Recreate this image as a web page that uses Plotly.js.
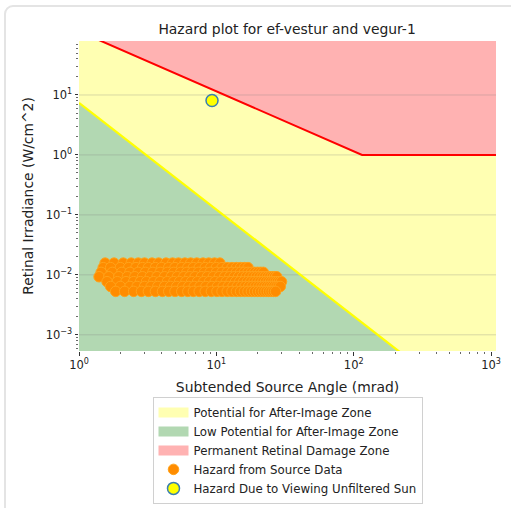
<!DOCTYPE html>
<html><head><meta charset="utf-8">
<script src="https://cdn.plot.ly/plotly-3.0.1.min.js"></script>
<style>
html,body{margin:0;padding:0;background:#fff;overflow:hidden;width:511px;height:508px}
#frame{position:absolute;left:4px;top:5px;width:640px;height:640px;border:2px solid #e4e4e4;border-radius:9px;box-sizing:border-box}
#chart{position:absolute;left:0;top:0;width:511px;height:508px}
</style></head>
<body><div id="frame"></div><div id="chart"></div>
<script>
// ---- zone boundaries ----
const afterZoneX = [1, 1100, 1100, 1];
const afterZoneY = [1e-4, 1e-4, 100, 100];
const lowZoneX = [1, 1000, 1];
const lowZoneY = [7.4, 3.4e-5, 3.4e-5];
const permZoneX = [1, 115, 1100, 1100, 1];
const permZoneY = [115, 1, 1, 100, 100];
const redLineX = [1, 115, 1100];
const redLineY = [115, 1, 1];
const yellowLineX = [1, 1000];
const yellowLineY = [7.4, 3.4e-5];
const gridLevels = [10, 1, 0.1, 0.01, 0.001];

// ---- hazard from source data (rows of irradiance, subtended angles per row) ----
const rowIrradiance = [0.0157, 0.0132, 0.0110, 0.0093, 0.0077, 0.0064, 0.0053];
const rowAngles = [
  [1.55, 1.8, 2.1, 2.4, 2.7, 3.0, 3.4, 3.8, 4.3, 4.8, 5.3, 5.9, 6.5, 7.2, 8.0, 8.8, 9.7, 10.6],
  [1.5, 1.7, 2.0, 2.3, 2.6, 2.9, 3.2, 3.6, 4.0, 4.5, 5.0, 5.6, 6.2, 6.8, 7.5, 8.3, 9.1, 10, 11, 12, 13, 14, 15, 16, 17],
  [1.45, 1.75, 2.05, 2.35, 2.7, 3.05, 3.45, 3.9, 4.4, 4.9, 5.5, 6.1, 6.7, 7.4, 8.2, 9, 10, 11, 12, 13, 14, 15, 16, 17, 18, 19, 20, 21, 22],
  [1.4, 1.65, 1.95, 2.25, 2.55, 2.9, 3.3, 3.7, 4.2, 4.7, 5.2, 5.8, 6.4, 7.0, 7.8, 8.6, 9.5, 10.5, 11.5, 12.5, 13.5, 14.5, 15.5, 16.5, 17.5, 18.5, 19.5, 20.5, 21.5, 22.5, 23.5, 24.5, 25.5, 26.5, 27.5],
  [1.6, 1.9, 2.2, 2.5, 2.8, 3.1, 3.5, 3.9, 4.4, 4.9, 5.4, 6.0, 6.6, 7.3, 8.1, 8.9, 9.8, 10.8, 11.8, 12.8, 13.8, 14.8, 15.8, 16.8, 17.8, 18.8, 19.8, 20.8, 21.8, 22.8, 23.8, 24.8, 25.8, 26.8, 27.8, 28.8, 29.8],
  [1.7, 2.0, 2.35, 2.65, 3.0, 3.35, 3.75, 4.2, 4.65, 5.15, 5.7, 6.3, 6.9, 7.6, 8.4, 9.3, 10.2, 11.2, 12.2, 13.2, 14.2, 15.2, 16.2, 17.2, 18.2, 19.2, 20.2, 21.2, 22.2, 23.2, 24.2, 25.2, 26.2, 27.2, 28.2, 29.2],
  [1.85, 2.15, 2.5, 2.85, 3.2, 3.6, 4.05, 4.5, 5.0, 5.6, 6.2, 6.8, 7.5, 8.3, 9.2, 10.1, 11, 12, 13, 14, 15, 16, 17, 18, 19, 20, 21, 22, 23, 24, 25, 26, 27]
];

// ---- sun ----
const sunAngle = [9.3];
const sunIrradiance = [8.1];

// ---- tick labels ----
const xTickVals = [1, 10, 100, 1000];
const xTickText = ['10<sup>0</sup>', '10<sup>1</sup>', '10<sup>2</sup>', '10<sup>3</sup>'];
const yTickVals = [0.001, 0.01, 0.1, 1, 10];
const yTickText = ['10<sup>\u22123</sup>', '10<sup>\u22122</sup>', '10<sup>\u22121</sup>', '10<sup>0</sup>', '10<sup>1</sup>'];

// ---- legend names & colours ----
const zoneNames = ['Potential for After-Image Zone', 'Low Potential for After-Image Zone', 'Permanent Retinal Damage Zone'];
const zoneColors = ['#ffffb2', '#b2d8b2', '#ffb2b2'];

// build flattened source arrays
const srcX = [], srcY = [];
rowAngles.forEach((angles, i) => angles.forEach(a => { srcX.push(a); srcY.push(rowIrradiance[i]); }));

// grid line trace (drawn above zone fills, below markers)
const gridX = [], gridY = [];
gridLevels.forEach(v => { gridX.push(1, 1100, null); gridY.push(v, v, null); });

const legendPatches = zoneNames.map((n, i) => ({
  x: [null], y: [null], mode: 'lines', name: n, line: {color: zoneColors[i], width: 10}, hoverinfo: 'skip'
}));

const traces = legendPatches.concat([
  {x: afterZoneX, y: afterZoneY, mode: 'lines', fill: 'toself', fillcolor: zoneColors[0],
   line: {width: 0, color: zoneColors[0]}, showlegend: false, hoverinfo: 'skip'},
  {x: lowZoneX, y: lowZoneY, mode: 'lines', fill: 'toself', fillcolor: zoneColors[1],
   line: {width: 0, color: zoneColors[1]}, showlegend: false, hoverinfo: 'skip'},
  {x: permZoneX, y: permZoneY, mode: 'lines', fill: 'toself', fillcolor: zoneColors[2],
   line: {width: 0, color: zoneColors[2]}, showlegend: false, hoverinfo: 'skip'},
  {x: gridX, y: gridY, mode: 'lines', line: {color: 'rgba(128,128,128,0.3)', width: 1},
   showlegend: false, hoverinfo: 'skip', connectgaps: false},
  {x: redLineX, y: redLineY, mode: 'lines', line: {color: '#ff0000', width: 2}, showlegend: false},
  {x: yellowLineX, y: yellowLineY, mode: 'lines', line: {color: '#ffff00', width: 2.2}, showlegend: false},
  {x: srcX, y: srcY, mode: 'markers', name: 'Hazard from Source Data',
   marker: {color: '#ff8c00', size: 10.5, line: {color: '#ffa31a', width: 1}}},
  {x: sunAngle, y: sunIrradiance, mode: 'markers', name: 'Hazard Due to Viewing Unfiltered Sun',
   marker: {color: '#ffff00', size: 12, line: {color: '#3a7fb0', width: 1.5}}}
]);

const axisCommon = {
  type: 'log', showgrid: false, zeroline: false, showline: false,
  ticks: 'outside', ticklen: 3.5, tickwidth: 1, tickcolor: '#333',
  tickfont: {family: 'DejaVu Sans', size: 11.5, color: '#222'},
  tickmode: 'array',
  minor: {ticks: 'outside', ticklen: 2, tickwidth: 0.8, tickcolor: '#444', dtick: 'D1', showgrid: false}
};

const layout = {
  width: 511, height: 508,
  margin: {l: 79, r: 15.3, t: 41, b: 157, pad: 0, autoexpand: false},
  paper_bgcolor: 'rgba(0,0,0,0)', plot_bgcolor: '#ffffff',
  font: {family: 'DejaVu Sans', color: '#222'},
  title: {text: 'Hazard plot for ef-vestur and vegur-1', font: {family: 'DejaVu Sans', size: 13.9, color: '#222'},
          x: 0.5618, xanchor: 'center', y: 0.943, yanchor: 'middle'},
  xaxis: Object.assign({}, axisCommon, {
    range: [0, 3.036], tickvals: xTickVals, ticktext: xTickText,
    title: {text: 'Subtended Source Angle (mrad)', font: {family: 'DejaVu Sans', size: 13.9, color: '#222'}, standoff: 10}
  }),
  yaxis: Object.assign({}, axisCommon, {
    range: [-3.27, 1.9], tickvals: yTickVals, ticktext: yTickText,
    title: {text: 'Retinal Irradiance (W/cm^2)', font: {family: 'DejaVu Sans', size: 13.9, color: '#222'}, standoff: 8}
  }),
  legend: {
    x: 0.5, xanchor: 'center', y: -0.148, yanchor: 'top',
    bgcolor: '#ffffff', bordercolor: '#d0d0d0', borderwidth: 1,
    font: {family: 'DejaVu Sans', size: 11.8, color: '#222'},
    tracegroupgap: 0
  },
  showlegend: true
};

Plotly.newPlot('chart', traces, layout, {displayModeBar: false, staticPlot: true});
</script></body></html>
